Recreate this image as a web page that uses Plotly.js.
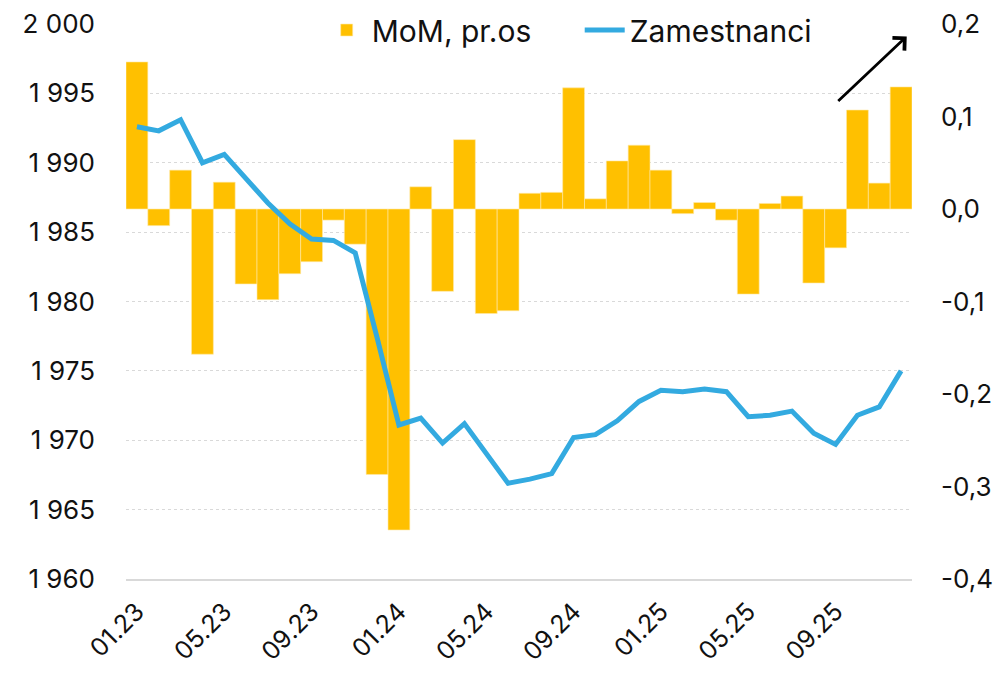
<!DOCTYPE html>
<html>
<head>
<meta charset="utf-8">
<script src="https://cdn.plot.ly/plotly-3.0.1.min.js"></script>
<style>
  html, body { margin: 0; padding: 0; background: #ffffff; }
  #chart { width: 1000px; height: 675px; }
</style>
</head>
<body>
<div id="chart"></div>
<script>
// Months (MM.YY)
const months = [
  "01.23","02.23","03.23","04.23","05.23","06.23","07.23","08.23","09.23","10.23","11.23","12.23",
  "01.24","02.24","03.24","04.24","05.24","06.24","07.24","08.24","09.24","10.24","11.24","12.24",
  "01.25","02.25","03.25","04.25","05.25","06.25","07.25","08.25","09.25","10.25","11.25","12.25"
];

// Month-on-month change, right axis (bars)
const momValues = [
  0.159, -0.018, 0.042, -0.157, 0.029, -0.081, -0.098, -0.070, -0.057, -0.012, -0.038, -0.287,
  -0.347, 0.024, -0.089, 0.075, -0.113, -0.110, 0.017, 0.018, 0.131, 0.011, 0.052, 0.069,
  0.042, -0.005, 0.007, -0.012, -0.092, 0.006, 0.014, -0.080, -0.042, 0.107, 0.028, 0.132
];

// Employees (thousands), left axis (line)
const employees = [
  1992.6, 1992.3, 1993.1, 1990.0, 1990.6, 1988.8, 1987.1, 1985.6, 1984.5, 1984.4, 1983.5, 1977.4,
  1971.1, 1971.6, 1969.8, 1971.2, 1969.1, 1966.9, 1967.2, 1967.6, 1970.2, 1970.4, 1971.4, 1972.8,
  1973.6, 1973.5, 1973.7, 1973.5, 1971.7, 1971.8, 1972.1, 1970.5, 1969.7, 1971.8, 1972.4, 1975.0
];

// Tick labels
const xTickLabels = ["01.23","05.23","09.23","01.24","05.24","09.24","01.25","05.25","09.25"];
const rightTickVals = [-0.4, -0.3, -0.2, -0.1, 0.0, 0.1, 0.2];
const rightTickText = ["-0,4", "-0,3", "-0,2", "-0,1", "0,0", "0,1", "0,2"];
const leftTickVals = [1960, 1965, 1970, 1975, 1980, 1985, 1990, 1995, 2000];
const leftTickText = ["1 960", "1 965", "1 970", "1 975", "1 980", "1 985", "1 990", "1 995", "2 000"];

const seriesNames = ["MoM, pr.os", "Zamestnanci"];

const FONT = "Inter, 'Liberation Sans', Arial, sans-serif";

const traces = [
  {
    type: "bar",
    name: seriesNames[0],
    x: months,
    y: momValues,
    yaxis: "y",
    marker: { color: "#FFC000", line: { color: "#FFE9A8", width: 0.6 } },
    hoverinfo: "x+y"
  },
  {
    type: "scatter",
    mode: "lines",
    name: seriesNames[1],
    x: months,
    y: employees,
    yaxis: "y2",
    line: { color: "#33AAE0", width: 5 },
    hoverinfo: "x+y"
  }
];

const layout = {
  width: 1000,
  height: 675,
  paper_bgcolor: "#ffffff",
  plot_bgcolor: "#ffffff",
  margin: { l: 126, r: 88, t: 24, b: 96, autoexpand: false },
  font: { family: FONT, size: 26, color: "#111111" },
  bargap: 0,
  showlegend: true,
  legend: {
    orientation: "h",
    x: 0.249,
    xanchor: "left",
    y: 1.036,
    yanchor: "top",
    font: { family: FONT, size: 30, color: "#111111" },
    bgcolor: "rgba(255,255,255,0)",
    itemwidth: 40,
    entrywidth: 203,
    traceorder: "normal"
  },
  xaxis: {
    type: "category",
    tickmode: "array",
    tickvals: xTickLabels,
    ticktext: xTickLabels,
    tickangle: -45,
    ticks: "",
    showgrid: false,
    showline: true,
    linecolor: "#d9d9d9",
    linewidth: 2,
    tickfont: { family: FONT, size: 25, color: "#111111" },
    ticklabelstandoff: 6
  },
  yaxis: {
    side: "right",
    range: [-0.4, 0.2],
    tickmode: "array",
    tickvals: rightTickVals,
    ticktext: rightTickText,
    showgrid: false,
    zeroline: false,
    showline: false,
    ticks: "",
    tickfont: { family: FONT, size: 26, color: "#111111" },
    ticklabelstandoff: 28
  },
  yaxis2: {
    side: "left",
    overlaying: "y",
    range: [1960, 2000],
    tickmode: "array",
    tickvals: leftTickVals,
    ticktext: leftTickText,
    showgrid: true,
    gridcolor: "#d9d9d9",
    griddash: "dot",
    gridwidth: 1,
    zeroline: false,
    showline: false,
    ticks: "",
    tickfont: { family: FONT, size: 26, color: "#111111" },
    ticklabelstandoff: 30
  },
  annotations: [
    {
      xref: "paper", yref: "paper",
      x: 0.9933, y: 0.9777,
      axref: "pixel", ayref: "pixel",
      ax: -70, ay: 66,
      text: "",
      showarrow: true,
      arrowhead: 4,
      arrowsize: 1.2,
      arrowwidth: 2.8,
      arrowcolor: "#000000"
    }
  ]
};

Plotly.newPlot("chart", traces, layout, { displayModeBar: false, staticPlot: true });
</script>
</body>
</html>
